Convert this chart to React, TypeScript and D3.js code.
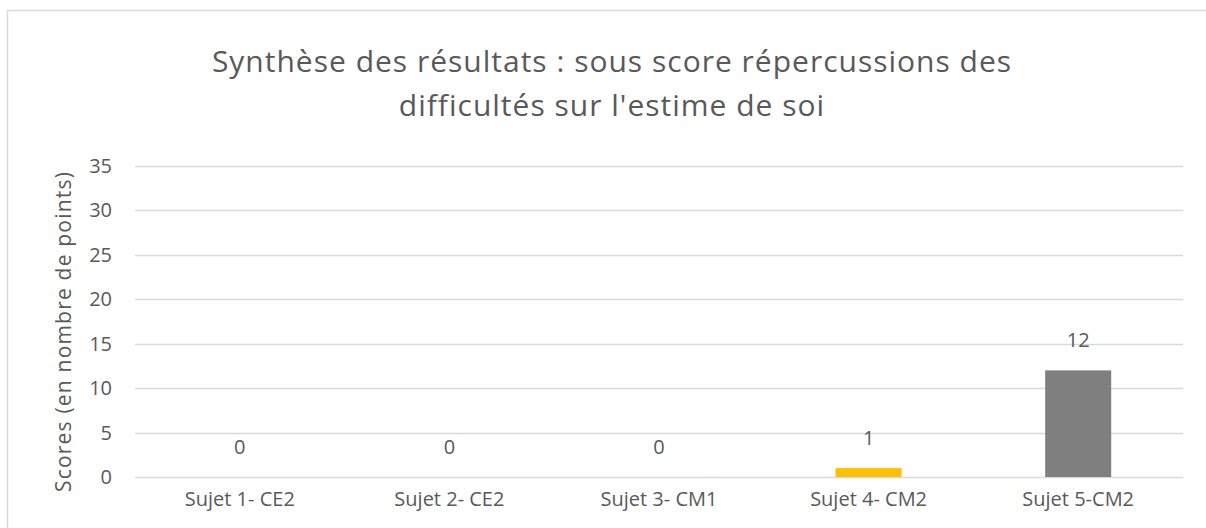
import React, { useEffect, useRef } from "react";
import * as d3 from "d3";

const categories = ["Sujet 1- CE2", "Sujet 2- CE2", "Sujet 3- CM1", "Sujet 4- CM2", "Sujet 5-CM2"];
const scores = [0, 0, 0, 1, 12];
const barColors = ["#4472C4", "#ED7D31", "#A5A5A5", "#FFC000", "#7F7F7F"];
const yTicks = [0, 5, 10, 15, 20, 25, 30, 35];
const titleLines = ["Synthèse des résultats : sous score répercussions des", "difficultés sur l'estime de soi"];
const yTitle = "Scores (en nombre de points)";

const WIDTH = 1206;
const HEIGHT = 528;
const MARGIN = { top: 166, right: 23, bottom: 51, left: 135 };
const FONT = "'Open Sans', 'Noto Sans', sans-serif";
const TEXT = "#595959";

const App = () => {
  const ref = useRef(null);

  useEffect(() => {
    const svg = d3.select(ref.current);
    svg.selectAll("*").remove();

    const x = d3
      .scaleBand()
      .domain(categories)
      .range([MARGIN.left, WIDTH - MARGIN.right])
      .paddingInner(0.685)
      .paddingOuter(0.3425);
    const y = d3
      .scaleLinear()
      .domain([0, 35])
      .range([HEIGHT - MARGIN.bottom, MARGIN.top]);

    // chart frame
    svg
      .append("rect")
      .attr("x", 7.5)
      .attr("y", 10.5)
      .attr("width", WIDTH + 10)
      .attr("height", HEIGHT + 10)
      .attr("fill", "white")
      .attr("stroke", "#d9d9d9")
      .attr("stroke-width", 1.5);

    // title
    svg
      .append("g")
      .selectAll("text")
      .data(titleLines)
      .join("text")
      .attr("x", 612)
      .attr("y", (d, i) => 71.5 + i * 44)
      .attr("text-anchor", "middle")
      .attr("font-family", FONT)
      .attr("font-size", 30)
      .attr("letter-spacing", 1)
      .attr("fill", TEXT)
      .text((d) => d);

    // gridlines
    svg
      .append("g")
      .selectAll("line")
      .data(yTicks)
      .join("line")
      .attr("x1", MARGIN.left)
      .attr("x2", WIDTH - MARGIN.right)
      .attr("y1", (d) => Math.round(y(d)) + 0.5)
      .attr("y2", (d) => Math.round(y(d)) + 0.5)
      .attr("stroke", "#d9d9d9")
      .attr("stroke-width", 1.5);

    // y tick labels
    svg
      .append("g")
      .selectAll("text")
      .data(yTicks)
      .join("text")
      .attr("x", 112)
      .attr("y", (d) => y(d) + 7)
      .attr("text-anchor", "end")
      .attr("font-family", FONT)
      .attr("font-size", 20)
      .attr("fill", TEXT)
      .text((d) => d);

    // y axis title
    svg
      .append("text")
      .attr("transform", `translate(71 ${(y(0) + y(35)) / 2 + 10}) rotate(-90)`)
      .attr("text-anchor", "middle")
      .attr("font-family", FONT)
      .attr("font-size", 21)
      .attr("letter-spacing", 1.2)
      .attr("fill", TEXT)
      .text(yTitle);

    // bars
    svg
      .append("g")
      .selectAll("rect")
      .data(scores)
      .join("rect")
      .attr("x", (d, i) => x(categories[i]))
      .attr("y", (d) => y(d))
      .attr("width", x.bandwidth())
      .attr("height", (d) => y(0) - y(d))
      .attr("fill", (d, i) => barColors[i]);

    // value labels
    svg
      .append("g")
      .selectAll("text")
      .data(scores)
      .join("text")
      .attr("x", (d, i) => x(categories[i]) + x.bandwidth() / 2)
      .attr("y", (d) => y(d) - 23)
      .attr("text-anchor", "middle")
      .attr("font-family", FONT)
      .attr("font-size", 20)
      .attr("fill", TEXT)
      .text((d) => d);

    // category labels
    svg
      .append("g")
      .selectAll("text")
      .data(categories)
      .join("text")
      .attr("x", (d) => x(d) + x.bandwidth() / 2)
      .attr("y", 506)
      .attr("text-anchor", "middle")
      .attr("font-family", FONT)
      .attr("font-size", 20)
      .attr("fill", TEXT)
      .text((d) => d);
  }, []);

  return (
    <svg
      ref={ref}
      width={WIDTH}
      height={HEIGHT}
      style={{ position: "absolute", left: 0, top: 0, background: "white" }}
    />
  );
};

export default App;
